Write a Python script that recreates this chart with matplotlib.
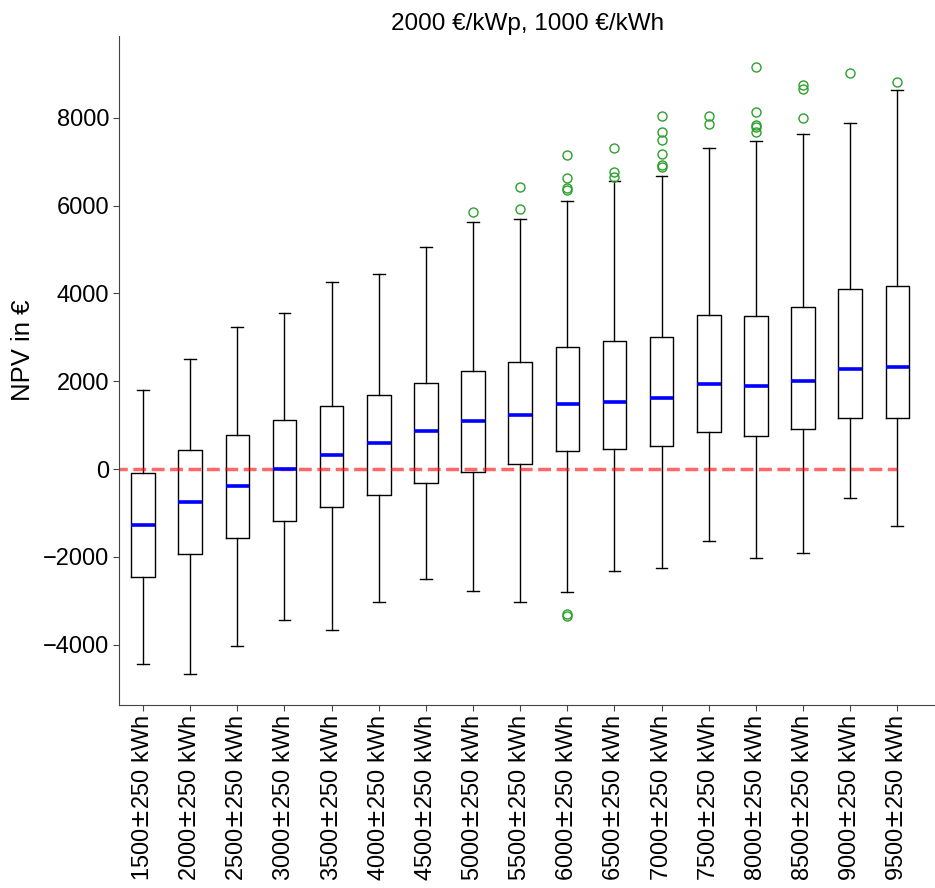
import matplotlib
matplotlib.use("Agg")
import matplotlib.pyplot as plt

plt.rcParams['font.family'] = ['Liberation Sans', 'DejaVu Sans']

# Annual consumption classes
categories = ["1500$\\pm$250 kWh", "2000$\\pm$250 kWh", "2500$\\pm$250 kWh",
              "3000$\\pm$250 kWh", "3500$\\pm$250 kWh", "4000$\\pm$250 kWh",
              "4500$\\pm$250 kWh", "5000$\\pm$250 kWh", "5500$\\pm$250 kWh",
              "6000$\\pm$250 kWh", "6500$\\pm$250 kWh", "7000$\\pm$250 kWh",
              "7500$\\pm$250 kWh", "8000$\\pm$250 kWh", "8500$\\pm$250 kWh",
              "9000$\\pm$250 kWh", "9500$\\pm$250 kWh"]

# Box statistics of the NPV distribution (EUR)
whisker_low = [-4433, -4668, -4024, -3432, -3660, -3029, -2499, -2772, -3022,
               -2802, -2317, -2255, -1627, -2028, -1907, -662, -1286]
q1 = [-2460, -1930, -1559, -1186, -853, -587, -314, -57, 125,
      407, 453, 535, 847, 756, 908, 1158, 1172]
median = [-1270, -746, -382, 0, 323, 589, 863, 1090, 1240,
          1484, 1529, 1627, 1939, 1893, 2014, 2287, 2319]
q3 = [-93, 444, 785, 1127, 1431, 1682, 1962, 2228, 2433,
      2781, 2918, 3002, 3509, 3480, 3691, 4108, 4176]
whisker_high = [1802, 2508, 3236, 3555, 4254, 4442, 5064, 5633, 5687,
                6111, 6559, 6673, 7303, 7476, 7629, 7879, 8623]
outliers = [
    [], [], [], [], [], [], [],
    [5853],
    [5929, 6429],
    [7151, 6627, 6393, 6354, -3290, -3345],
    [7303, 6764, 6657],
    [8031, 7674, 7492, 7180, 6923, 6871],
    [8031, 7863],
    [9160, 8129, 7840, 7781, 7681],
    [8744, 8660, 8000],
    [9024],
    [8805],
]

stats = [
    dict(whislo=lo, q1=a, med=m, q3=b, whishi=hi, fliers=f, label=c)
    for lo, a, m, b, hi, f, c in zip(whisker_low, q1, median, q3,
                                     whisker_high, outliers, categories)
]

fig = plt.figure(figsize=(9.35, 8.88), dpi=100)
ax = fig.add_axes([0.1278, 0.2061, 0.8722, 0.7534])

ax.bxp(stats, positions=range(1, len(categories) + 1), widths=0.5,
       boxprops=dict(color='black', linewidth=1.0),
       whiskerprops=dict(color='black', linewidth=1.0),
       capprops=dict(color='black', linewidth=1.0),
       medianprops=dict(color='blue', linewidth=2.6),
       flierprops=dict(marker='o', markerfacecolor='none',
                       markeredgecolor='#2ca02c', markersize=6.5,
                       markeredgewidth=1.0))

ax.hlines(0, 0, len(categories), colors='red', alpha=0.6,
          linestyles='--', linewidth=2.5)

ax.set_xlim(0.5, 17.8)
ax.set_ylim(-5370, 9860)
ax.set_yticks([-4000, -2000, 0, 2000, 4000, 6000, 8000])
ax.set_xticks(range(1, len(categories) + 1))
ax.set_xticklabels(categories, rotation=90)
ax.tick_params(axis='both', labelsize=17, length=4, color='#444444')

for side in ('top', 'right'):
    ax.spines[side].set_visible(False)
for side in ('left', 'bottom'):
    ax.spines[side].set_color('#444444')

ax.set_ylabel("NPV in €", fontsize=18.5)
ax.yaxis.set_label_coords(-0.103, 0.53)
ax.set_title("2000 €/kWp, 1000 €/kWh", fontsize=17.5, pad=4.5)

fig.savefig("out.png", dpi=100)
